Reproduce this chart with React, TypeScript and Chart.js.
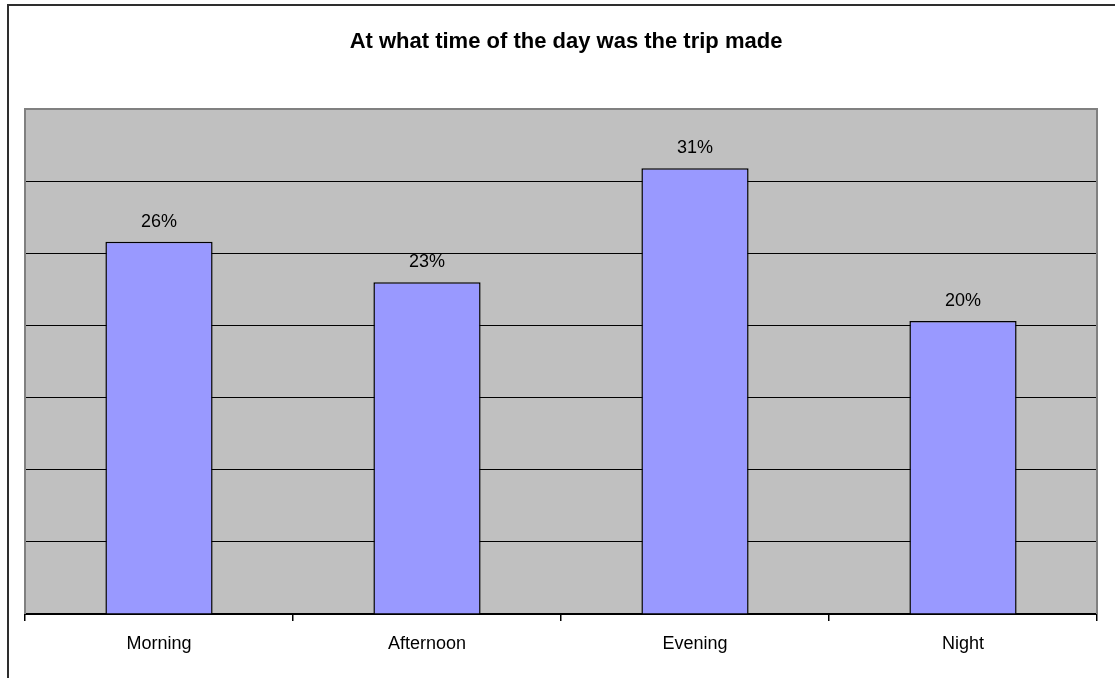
import React, { useEffect, useRef } from "react";
import { Chart, registerables } from "chart.js";

Chart.register(...registerables);

// Share of trips by time of day (percent)
const categories: string[] = ["Morning", "Afternoon", "Evening", "Night"];
const tripShares: number[] = [25.8, 23.0, 30.9, 20.3];
const axisMax = 35;
const axisStep = 5;

const chartTitle = "At what time of the day was the trip made";
const FONT = "'Liberation Sans', Arial, sans-serif";

// Grey plot background with a thin grey frame on top, left and right
const plotBackground = {
  id: "plotBackground",
  beforeDraw(chart: any) {
    const { ctx, chartArea } = chart;
    ctx.save();
    ctx.fillStyle = "#C0C0C0";
    ctx.fillRect(chartArea.left, chartArea.top, chartArea.right - chartArea.left, chartArea.bottom - chartArea.top);
    ctx.restore();
  },
  afterDraw(chart: any) {
    const { ctx, chartArea } = chart;
    ctx.save();
    ctx.strokeStyle = "#808080";
    ctx.lineWidth = 2;
    ctx.beginPath();
    ctx.moveTo(chartArea.left, chartArea.bottom);
    ctx.lineTo(chartArea.left, chartArea.top);
    ctx.lineTo(chartArea.right, chartArea.top);
    ctx.lineTo(chartArea.right, chartArea.bottom);
    ctx.stroke();
    ctx.restore();
  },
};

// Centered bold heading above the plot
const headingPlugin = {
  id: "heading",
  afterDraw(chart: any) {
    const { ctx } = chart;
    ctx.save();
    ctx.fillStyle = "#000";
    ctx.font = `bold 22px ${FONT}`;
    ctx.textAlign = "center";
    ctx.textBaseline = "alphabetic";
    ctx.fillText(chartTitle, 566, 48);
    ctx.restore();
  },
};

// Percentage labels above each bar
const valueLabels = {
  id: "valueLabels",
  afterDatasetsDraw(chart: any) {
    const { ctx } = chart;
    const meta = chart.getDatasetMeta(0);
    const values = chart.data.datasets[0].data as number[];
    ctx.save();
    ctx.fillStyle = "#000";
    ctx.font = `18px ${FONT}`;
    ctx.textAlign = "center";
    ctx.textBaseline = "alphabetic";
    meta.data.forEach((bar: any, i: number) => {
      ctx.fillText(`${Math.round(values[i])}%`, bar.x, bar.y - 15);
    });
    ctx.restore();
  },
};

export default function App() {
  const canvasRef = useRef<HTMLCanvasElement | null>(null);

  useEffect(() => {
    if (!canvasRef.current) return;
    const chart = new Chart(canvasRef.current, {
      type: "bar",
      data: {
        labels: categories,
        datasets: [
          {
            data: tripShares,
            backgroundColor: "#9999FF",
            borderColor: "#000000",
            borderWidth: 1.5,
            borderSkipped: "bottom",
            categoryPercentage: 1,
            barPercentage: 0.4,
          },
        ],
      },
      options: {
        animation: false,
        responsive: false,
        maintainAspectRatio: false,
        events: [],
        layout: { padding: { left: 25, right: 18, top: 109, bottom: 0 } },
        plugins: {
          legend: { display: false },
          title: { display: false },
          tooltip: { enabled: false },
        },
        scales: {
          x: {
            offset: true,
            grid: {
              offset: true,
              drawOnChartArea: false,
              drawTicks: true,
              tickLength: 7,
              color: "#000",
              lineWidth: 1.5,
            },
            border: { display: true, color: "#000", width: 2 },
            ticks: {
              color: "#000",
              font: { family: FONT, size: 18 },
              padding: 12,
              maxRotation: 0,
            },
            afterFit: (scale: any) => {
              scale.height = 64;
            },
          },
          y: {
            min: 0,
            max: axisMax,
            ticks: { display: false, stepSize: axisStep },
            border: { display: false },
            grid: {
              drawTicks: false,
              lineWidth: 1,
              color: (c: any) =>
                c.tick && (c.tick.value === 0 || c.tick.value === axisMax) ? "rgba(0,0,0,0)" : "#000",
            },
            afterFit: (scale: any) => {
              scale.width = 0;
            },
          },
        },
      },
      plugins: [plotBackground, valueLabels, headingPlugin],
    });
    return () => chart.destroy();
  }, []);

  return (
    <div style={{ position: "fixed", left: 0, top: 0, width: 1115, height: 678, overflow: "hidden", background: "#fff" }}>
      <div
        style={{
          position: "absolute",
          left: 7,
          top: 4,
          width: 1200,
          height: 800,
          borderTop: "2px solid #2e2e2e",
          borderLeft: "2px solid #2e2e2e",
        }}
      />
      <canvas
        ref={canvasRef}
        width={1115}
        height={678}
        style={{ position: "absolute", left: 0, top: 0, width: 1115, height: 678 }}
      />
    </div>
  );
}
